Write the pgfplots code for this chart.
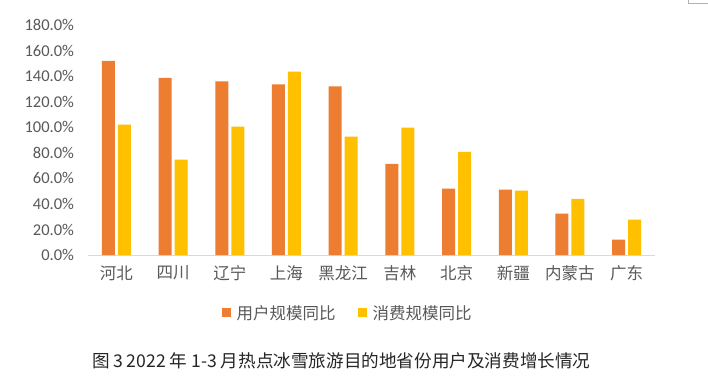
\documentclass[border=0pt]{standalone}
\usepackage{fontspec}
\setmainfont{Carlito}
\newfontfamily\cjk{Noto Sans CJK SC}
\usepackage{pgfplots}
\pgfplotsset{compat=1.18}
\definecolor{user}{HTML}{ED7D31}
\definecolor{spend}{HTML}{FFC000}
\definecolor{txt}{HTML}{595959}
\definecolor{axgray}{HTML}{D9D9D9}
\begin{document}
\begin{tikzpicture}[x=1pt,y=1pt]
\useasboundingbox[fill=white] (0,0) rectangle (708,376);
\draw[gray!60, line width=0.6pt] (688,376) -- (688,373) -- (708,373);
\begin{axis}[
  at={(88pt,121pt)}, anchor=south west,
  scale only axis, width=567pt, height=230pt,
  xmin=-0.5, xmax=9.5, ymin=0, ymax=180,
  ybar=3pt, bar width=13pt,
  axis x line*=bottom, axis y line*=left,
  x axis line style={draw=axgray, line width=0.8pt},
  y axis line style={draw=none},
  major tick length=0pt,
  xtick={0,...,9},
  xticklabels={河北,四川,辽宁,上海,黑龙江,吉林,北京,新疆,内蒙古,广东},
  xticklabel style={font=\cjk\fontsize{16.5}{18}\selectfont, text=txt, yshift=-7pt},
  ytick={0,20,...,180},
  yticklabel={\pgfmathprintnumber[fixed,fixed zerofill,precision=1]{\tick}\%},
  yticklabel style={font=\fontsize{16.5}{18}\selectfont, text=txt, xshift=-10.5pt},
  /pgf/number format/assume math mode=true,
  legend columns=2,
  legend style={draw=none, fill=none, at={(0.458,-0.252)}, anchor=center,
    font=\cjk\fontsize{16.5}{18}\selectfont, text=txt,
    /tikz/every even column/.append style={column sep=20pt},
    inner sep=0pt},
  legend image code/.code={\fill[#1] (0pt,-4.5pt) rectangle (9pt,4.5pt); \path (13pt,0pt);},
]
\addplot[fill=user, draw=none] coordinates {
  (0,152) (1,138.7) (2,135.8) (3,133.5) (4,132) (5,71.4) (6,51.9) (7,51.1) (8,32.3) (9,12)};
\addplot[fill=spend, draw=none] coordinates {
  (0,102) (1,74.6) (2,100.4) (3,143.5) (4,92.6) (5,99.6) (6,80.8) (7,50.3) (8,44) (9,27.6)};
\legend{用户规模同比,消费规模同比}
\end{axis}
\node[font=\cjk\fontsize{17.6}{19}\selectfont, text=black!85] at (341.5,15) {图\,3 2022 年 1-3 月热点冰雪旅游目的地省份用户及消费增长情况};
\end{tikzpicture}
\end{document}
